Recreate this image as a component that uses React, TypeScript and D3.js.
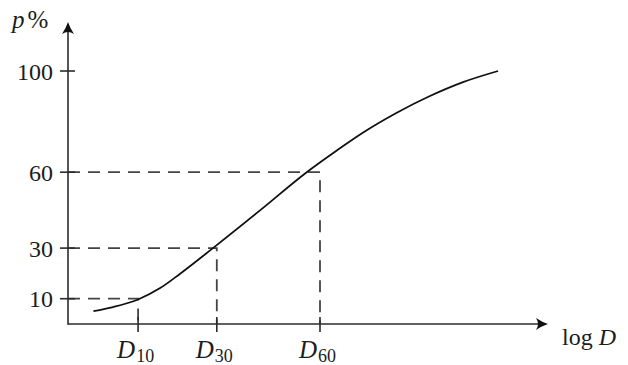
import React, { useEffect, useRef } from "react";
import * as d3 from "d3";

// curve of cumulative percent passing vs log D (arbitrary log D units)
const curveLogD = [0.53, 0.94, 1.46, 1.92, 2.33, 3.02, 4.0, 4.98, 5.6, 6.15, 6.85, 7.54, 8.23, 8.96];
const curveP = [5.1, 6.7, 9.7, 14.2, 19.8, 30.0, 44.9, 60.1, 68.6, 75.7, 83.5, 90.1, 95.6, 100];

// characteristic diameters
const dNames = ["10", "30", "60"];
const dLogD = [1.46, 3.1, 5.25];
const dP = [10, 30, 60];

const yTicks = [10, 30, 60, 100];

const W = 628, H = 365;
const serif = "'Liberation Serif', 'Times New Roman', serif";

function App() {
  const ref = useRef<SVGSVGElement>(null);

  useEffect(() => {
    const svg = d3.select(ref.current);
    svg.selectAll("*").remove();

    const x = d3.scaleLinear().domain([0, 10]).range([68, 548]);
    const y = d3.scaleLinear().domain([0, 100]).range([324, 71]);

    const axisColor = "#2b2b2b";
    const textColor = "#1c1c1c";

    // dashed guides
    const g = svg.append("g");
    dNames.forEach((n, i) => {
      g.append("path")
        .attr("d", `M${x(0)},${y(dP[i])} H${x(dLogD[i])} V${y(0)}`)
        .attr("fill", "none")
        .attr("stroke", "#444")
        .attr("stroke-width", 1.8)
        .attr("stroke-dasharray", "12,8");
    });

    // axes
    g.append("line")
      .attr("x1", x(0)).attr("x2", x(10) - 4)
      .attr("y1", y(0)).attr("y2", y(0))
      .attr("stroke", axisColor).attr("stroke-width", 1.6);
    g.append("line")
      .attr("x1", x(0)).attr("x2", x(0))
      .attr("y1", y(0) + 0.8).attr("y2", 26)
      .attr("stroke", axisColor).attr("stroke-width", 1.6);

    const head = "M0,0 Q-6,-2 -12,-6 Q-8,0 -12,6 Q-6,2 0,0 Z";
    g.append("path").attr("d", head)
      .attr("transform", `translate(${x(10)},${y(0)})`)
      .attr("fill", "#111");
    g.append("path").attr("d", head)
      .attr("transform", `translate(${x(0)},22) rotate(-90)`)
      .attr("fill", "#111");

    // ticks
    yTicks.forEach(t => {
      g.append("line")
        .attr("x1", x(0) - 8).attr("x2", x(0) + 7)
        .attr("y1", y(t)).attr("y2", y(t))
        .attr("stroke", axisColor).attr("stroke-width", 1.6);
      g.append("text")
        .attr("x", 53).attr("y", y(t) + 8.5)
        .attr("text-anchor", "end")
        .attr("font-family", serif).attr("font-size", 24)
        .attr("fill", textColor)
        .text(t);
    });
    dLogD.forEach((d, i) => {
      g.append("line")
        .attr("x1", x(d)).attr("x2", x(d))
        .attr("y1", y(0) - 7).attr("y2", y(0) + 8)
        .attr("stroke", axisColor).attr("stroke-width", 1.6);
      const t = g.append("text")
        .attr("x", x(d) - 21).attr("y", 358)
        .attr("font-family", serif).attr("font-size", 25)
        .attr("fill", textColor);
      t.append("tspan").attr("font-style", "italic").text("D");
      t.append("tspan").attr("dx", 1).attr("dy", 4).attr("font-size", 18).text(dNames[i]);
    });

    // curve
    const pts = curveLogD.map((v, i) => [v, curveP[i]] as [number, number]);
    const line = d3.line<[number, number]>()
      .x(d => x(d[0])).y(d => y(d[1]))
      .curve(d3.curveMonotoneX);
    g.append("path")
      .attr("d", line(pts))
      .attr("fill", "none")
      .attr("stroke", "#111")
      .attr("stroke-width", 1.8);

    // axis labels
    const yl = g.append("text")
      .attr("x", 12).attr("y", 28)
      .attr("font-family", serif).attr("font-size", 25)
      .attr("fill", textColor);
    yl.append("tspan").attr("font-style", "italic").text("p");
    yl.append("tspan").attr("dx", 3).text("%");

    const xl = g.append("text")
      .attr("x", 562).attr("y", 345)
      .attr("font-family", serif).attr("font-size", 24)
      .attr("fill", textColor);
    xl.append("tspan").text("log ");
    xl.append("tspan").attr("font-style", "italic").text("D");
  }, []);

  return (
    <svg ref={ref} width={W} height={H}
      style={{ position: "absolute", left: 0, top: 0, background: "#fff" }} />
  );
}

export default App;
